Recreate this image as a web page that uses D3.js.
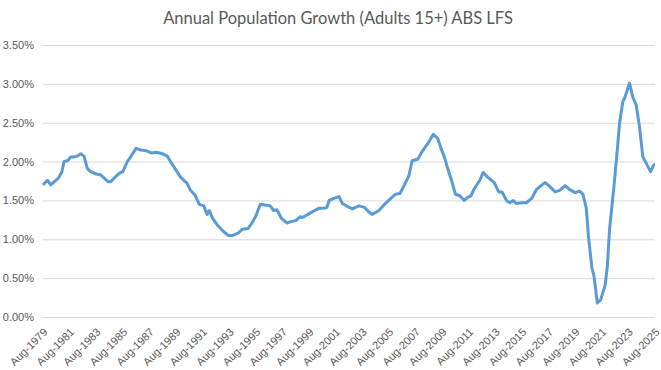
<!DOCTYPE html>
<html>
<head>
<meta charset="utf-8">
<script src="https://cdn.jsdelivr.net/npm/d3@7"></script>
<style>
  body { margin: 0; background: #fff; }
  svg { display: block; font-family: Lato, 'Open Sans', sans-serif; }
</style>
</head>
<body>
<svg id="svg" width="661" height="370"></svg>
<script>
// values (annual growth, %)
const months = [
  '1979-08', '1979-12', '1980-03', '1980-06', '1980-10', '1981-01', '1981-03', '1981-06',
  '1981-09', '1981-12', '1982-03', '1982-06', '1982-09', '1982-12', '1983-03', '1983-08',
  '1983-12', '1984-03', '1984-07', '1984-09', '1985-01', '1985-05', '1985-08', '1985-12',
  '1986-03', '1986-08', '1986-12', '1987-05', '1987-10', '1988-02', '1988-08', '1988-12',
  '1989-03', '1989-08', '1989-12', '1990-06', '1990-09', '1991-01', '1991-05', '1991-09',
  '1991-12', '1992-02', '1992-05', '1992-10', '1993-02', '1993-07', '1993-11', '1994-04',
  '1994-08', '1995-01', '1995-04', '1995-08', '1995-12', '1996-04', '1996-09', '1996-12',
  '1997-03', '1997-07', '1997-12', '1998-04', '1998-08', '1998-12', '1999-02', '1999-07',
  '2000-01', '2000-05', '2000-10', '2000-12', '2001-02', '2001-07', '2001-11', '2002-02',
  '2002-07', '2002-11', '2003-05', '2003-10', '2004-02', '2004-05', '2004-11', '2005-04',
  '2005-10', '2006-02', '2006-06', '2006-10', '2007-02', '2007-05', '2007-10', '2008-02',
  '2008-07', '2008-12', '2009-04', '2009-07', '2009-10', '2010-01', '2010-04', '2010-08',
  '2010-12', '2011-04', '2011-07', '2011-10', '2012-01', '2012-06', '2012-09', '2013-01',
  '2013-07', '2013-11', '2014-02', '2014-06', '2014-09', '2014-12', '2015-03', '2015-08',
  '2015-12', '2016-05', '2016-09', '2017-02', '2017-05', '2017-09', '2018-02', '2018-06',
  '2018-11', '2019-03', '2019-08', '2019-12', '2020-03', '2020-06', '2020-08', '2020-11',
  '2021-01', '2021-04', '2021-07', '2021-11', '2022-01', '2022-03', '2022-07', '2022-10',
  '2022-12', '2023-03', '2023-05', '2023-09', '2023-12', '2024-03', '2024-06', '2024-09',
  '2024-12', '2025-04', '2025-07', '2025-08'
]
const growth = [
  1.70, 1.76, 1.70, 1.74, 1.79, 1.87, 2.00, 2.01,
  2.06, 2.06, 2.07, 2.10, 2.07, 1.91, 1.87, 1.84,
  1.83, 1.79, 1.74, 1.74, 1.80, 1.85, 1.87, 2.00,
  2.06, 2.17, 2.15, 2.14, 2.11, 2.12, 2.10, 2.07,
  2.00, 1.89, 1.80, 1.72, 1.63, 1.57, 1.45, 1.43,
  1.32, 1.37, 1.27, 1.17, 1.11, 1.05, 1.05, 1.08,
  1.13, 1.14, 1.20, 1.30, 1.45, 1.44, 1.43, 1.37,
  1.38, 1.27, 1.21, 1.23, 1.24, 1.29, 1.28, 1.32,
  1.37, 1.40, 1.40, 1.41, 1.50, 1.53, 1.55, 1.46,
  1.42, 1.39, 1.43, 1.41, 1.35, 1.32, 1.37, 1.45,
  1.53, 1.58, 1.59, 1.70, 1.82, 2.01, 2.03, 2.13,
  2.23, 2.35, 2.30, 2.17, 2.06, 1.91, 1.78, 1.58,
  1.56, 1.50, 1.54, 1.56, 1.65, 1.76, 1.86, 1.80,
  1.73, 1.61, 1.61, 1.50, 1.47, 1.50, 1.46, 1.47,
  1.47, 1.53, 1.64, 1.70, 1.73, 1.68, 1.61, 1.63,
  1.69, 1.64, 1.60, 1.62, 1.58, 1.40, 1.03, 0.64,
  0.52, 0.18, 0.22, 0.41, 0.65, 1.12, 1.68, 2.15,
  2.49, 2.77, 2.83, 3.01, 2.83, 2.73, 2.45, 2.06,
  1.98, 1.87, 1.96, 1.96
]
const xTickLabels = [
  'Aug-1979', 'Aug-1981', 'Aug-1983', 'Aug-1985', 'Aug-1987', 'Aug-1989',
  'Aug-1991', 'Aug-1993', 'Aug-1995', 'Aug-1997', 'Aug-1999', 'Aug-2001',
  'Aug-2003', 'Aug-2005', 'Aug-2007', 'Aug-2009', 'Aug-2011', 'Aug-2013',
  'Aug-2015', 'Aug-2017', 'Aug-2019', 'Aug-2021', 'Aug-2023', 'Aug-2025'
]
const yTicks = [0, 0.5, 1, 1.5, 2, 2.5, 3, 3.5]

const title = 'Annual Population Growth (Adults 15+) ABS LFS'

const parseMonth = d3.timeParse('%Y-%m')
const parseLabel = d3.timeParse('%b-%Y')
const data = months.map((m, i) => ({ date: parseMonth(m), value: growth[i] }))
const tickDates = xTickLabels.map(parseLabel)

const plotLeft = 43
const plotRight = 655
const plotTop = 45
const plotBottom = 317

const xScale = d3.scaleTime()
  .domain(d3.extent(tickDates))
  .range([plotLeft, plotRight])

const yScale = d3.scaleLinear()
  .domain([0, 3.5])
  .range([plotBottom, plotTop])

const svg = d3.select('#svg')

svg.append('text')
  .text(title)
  .attr('x', 338)
  .attr('y', 24)
  .attr('text-anchor', 'middle')
  .attr('fill', '#595959')
  .style('font-size', '16.5px')

// y axis + gridlines
const yAxis = svg.append('g')
  .attr('transform', `translate(${plotLeft},0)`)
  .call(d3.axisLeft(yScale)
    .tickValues(yTicks)
    .tickFormat(d => d.toFixed(2) + '%')
    .tickSize(-(plotRight - plotLeft))
    .tickPadding(9))

yAxis.select('.domain').remove()
yAxis.selectAll('line').attr('stroke', '#d9d9d9')
yAxis.selectAll('text')
  .attr('fill', '#595959')
  .style('font-size', '11px')

// x axis labels
const xAxis = svg.append('g')
  .attr('transform', `translate(0,${plotBottom})`)
  .call(d3.axisBottom(xScale)
    .tickValues(tickDates)
    .tickFormat(d3.timeFormat('%b-%Y'))
    .tickSize(0))

xAxis.select('.domain').remove()
xAxis.selectAll('text')
  .attr('fill', '#595959')
  .style('font-size', '11px')
  .attr('text-anchor', 'end')
  .attr('dy', '0.35em')
  .attr('y', 0)
  .attr('transform', 'translate(2,13) rotate(-45)')

const line = d3.line()
  .x(d => xScale(d.date))
  .y(d => yScale(d.value))

svg.append('path')
  .datum(data)
  .attr('d', line)
  .attr('fill', 'none')
  .attr('stroke', '#5b9bd5')
  .attr('stroke-width', 3)
  .attr('stroke-linejoin', 'round')
</script>
</body>
</html>
